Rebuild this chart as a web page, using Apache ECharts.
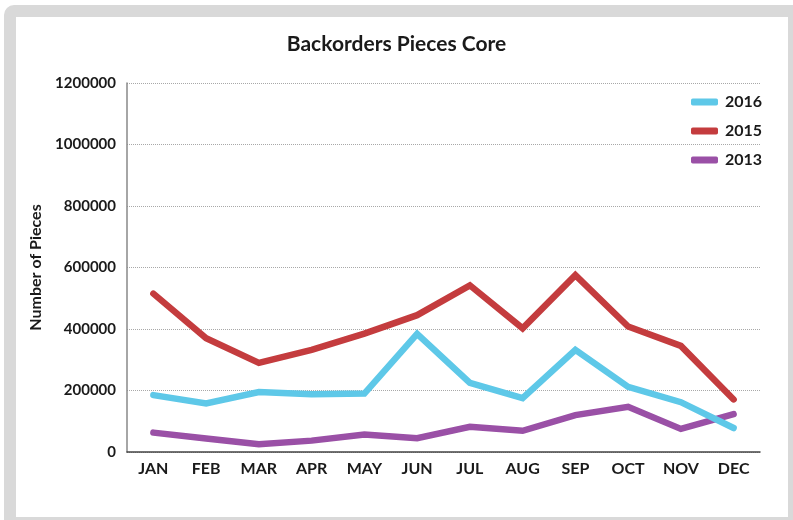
<!DOCTYPE html>
<html>
<head>
<meta charset="utf-8">
<script src="https://cdn.jsdelivr.net/npm/echarts@6/dist/echarts.min.js"></script>
<style>
  html, body { margin: 0; padding: 0; background: #ffffff; }
  #frame { position: absolute; left: 4px; top: 5px; width: 789px; height: 515px; background: #d9d9d9; border-radius: 10px 0 0 0; }
  #panel { position: absolute; left: 16px; top: 17px; width: 772px; height: 500px; background: #ffffff; }
  #chart { position: absolute; left: 0; top: 0; width: 793px; height: 520px; }
</style>
</head>
<body>
<div id="frame"></div>
<div id="panel"></div>
<div id="chart"></div>
<script>
const titleText = "Backorders Pieces Core";
const yAxisName = "Number of Pieces";
const months = ["JAN","FEB","MAR","APR","MAY","JUN","JUL","AUG","SEP","OCT","NOV","DEC"];
const seriesNames = ["2016","2015","2013"];
const values2016 = [185000,158000,195000,188000,190000,384000,225000,175000,332000,212000,162000,78000];
const values2015 = [515000,370000,290000,332000,385000,445000,542000,402000,575000,408000,345000,171000];
const values2013 = [63000,44000,25000,37000,57000,45000,82000,69000,120000,147000,75000,123000];
const colors = ["#5ec8e8","#c43c3e","#9a50a6"];

const font = "Lato, 'Open Sans', sans-serif";
const chart = echarts.init(document.getElementById('chart'), null, {renderer: 'canvas'});
const dataSets = [values2016, values2015, values2013];

chart.setOption({
  backgroundColor: 'transparent',
  animation: false,
  title: {
    text: titleText,
    left: 'center',
    top: 29,
    textStyle: { fontFamily: font, fontWeight: 'bold', fontSize: 21, color: '#1a1a1a' }
  },
  legend: {
    orient: 'vertical',
    left: 691,
    top: 93,
    padding: 0,
    itemWidth: 27,
    itemHeight: 7,
    itemGap: 11,
    icon: 'roundRect',
    data: seriesNames,
    textStyle: { fontFamily: font, fontWeight: 'bold', fontSize: 16, color: '#1a1a1a', lineHeight: 18, padding: [0, 0, 0, 2] }
  },
  grid: { left: 127, top: 83, right: 33, bottom: 68, containLabel: false },
  xAxis: {
    type: 'category',
    data: months,
    boundaryGap: true,
    axisLine: { lineStyle: { color: '#444', width: 1.5 } },
    axisTick: { show: false },
    axisLabel: { fontFamily: font, fontWeight: 'bold', fontSize: 16, color: '#1a1a1a', margin: 9 }
  },
  yAxis: {
    type: 'value',
    min: 0,
    max: 1200000,
    interval: 200000,
    name: yAxisName,
    nameLocation: 'middle',
    nameRotate: 90,
    nameGap: 80,
    nameTextStyle: { fontFamily: font, fontWeight: 'bold', fontSize: 16, color: '#1a1a1a' },
    axisLine: { show: true, lineStyle: { color: '#888', width: 1.5 } },
    axisTick: { show: false },
    axisLabel: { fontFamily: font, fontWeight: 'bold', fontSize: 15, color: '#1a1a1a', margin: 11, formatter: v => String(v) },
    splitLine: { show: true, lineStyle: { type: 'dotted', color: '#a8a8a8', width: 1 } }
  },
  series: seriesNames.map((name, i) => ({
    name: name,
    type: 'line',
    data: dataSets[i],
    symbol: 'none',
    smooth: false,
    color: colors[i],
    lineStyle: { width: 6.5, color: colors[i], cap: 'round', join: 'miter' },
    z: 3 - i
  }))
});
</script>
</body>
</html>
